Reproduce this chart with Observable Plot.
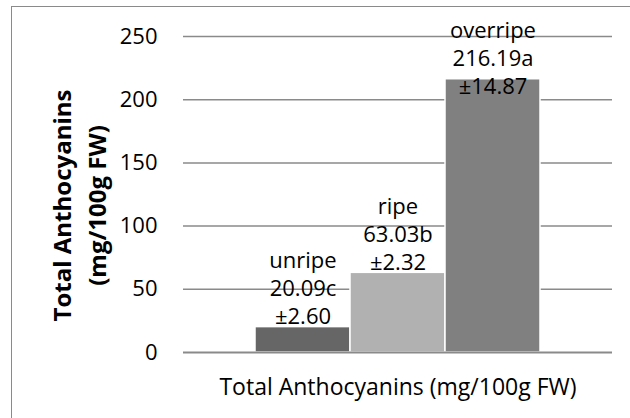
<!DOCTYPE html>
<html>
<head>
<meta charset="utf-8">
<script src="https://cdn.jsdelivr.net/npm/d3@7"></script>
<script src="https://cdn.jsdelivr.net/npm/@observablehq/plot@0.6"></script>
<style>
  html, body { margin: 0; padding: 0; background: #fff; }
  #wrap { position: relative; width: 630px; height: 418px; overflow: hidden; }
  #wrap svg { position: absolute; left: 0; top: 0; z-index: 1; }
  #border { position: absolute; left: 11px; top: 6px; width: 700px; height: 500px; z-index: 2;
            border-left: 1.5px solid #8a8a8a; border-top: 1.5px solid #8a8a8a; pointer-events: none; }
</style>
</head>
<body>
<div id="wrap"><div id="border"></div></div>
<script>
const category = "Total Anthocyanins (mg/100g FW)";
const series = ["unripe", "ripe", "overripe"];
const values = [20.09, 63.03, 216.19];
const letters = ["c", "b", "a"];
const errors = ["2.60", "2.32", "14.87"];
const colors = ["#666666", "#b1b1b1", "#808080"];
const yTicks = [0, 50, 100, 150, 200, 250];
const yTitle = "Total Anthocyanins\n(mg/100g FW)";

const data = series.map((s, i) => ({
  series: s, value: values[i], letter: letters[i], err: errors[i]
}));

const font = "'Open Sans', sans-serif";

const chart = Plot.plot({
  width: 630,
  height: 418,
  marginLeft: 183,
  marginRight: 18,
  marginTop: 36,
  marginBottom: 66,
  style: { fontFamily: font, fontSize: "22px", color: "black", background: "transparent" },
  x: { domain: series, paddingInner: 0, paddingOuter: 0.74, axis: null },
  y: { domain: [0, 250], axis: null },
  color: { domain: series, range: colors },
  marks: [
    Plot.ruleY(yTicks.filter(t => t > 0), { stroke: "#8a8a8a", strokeWidth: 1.5 }),
    Plot.barY(data, { x: "series", y: "value", fill: "series", stroke: "white", strokeWidth: 1.5 }),
    Plot.ruleY([0], { stroke: "#8a8a8a", strokeWidth: 2 }),
    Plot.axisY({ ticks: yTicks, tickSize: 0, tickPadding: 26, line: true, stroke: "#8a8a8a", fill: "black", label: null, fontSize: 22 }),
    Plot.text(data, {
      x: "series",
      y: d => Math.min(d.value, 202),
      text: d => `${d.series}\n${d.value.toFixed(2)}${d.letter}\n±${d.err}`,
      dy: -40,
      lineAnchor: "middle",
      lineHeight: 1.27,
      fontSize: 22,
      fill: "black"
    }),
    Plot.text([category], {
      frameAnchor: "bottom",
      text: d => d,
      dy: 35,
      lineAnchor: "middle",
      fontSize: 23,
      fill: "black"
    }),
    Plot.text([yTitle], {
      frameAnchor: "left",
      textAnchor: "middle",
      text: d => d,
      rotate: -90,
      dx: -106,
      dy: 11,
      lineAnchor: "middle",
      lineHeight: 1.45,
      fontSize: 24,
      fontWeight: "bold",
      fill: "black"
    })
  ]
});

document.getElementById("wrap").appendChild(chart);
</script>
</body>
</html>
